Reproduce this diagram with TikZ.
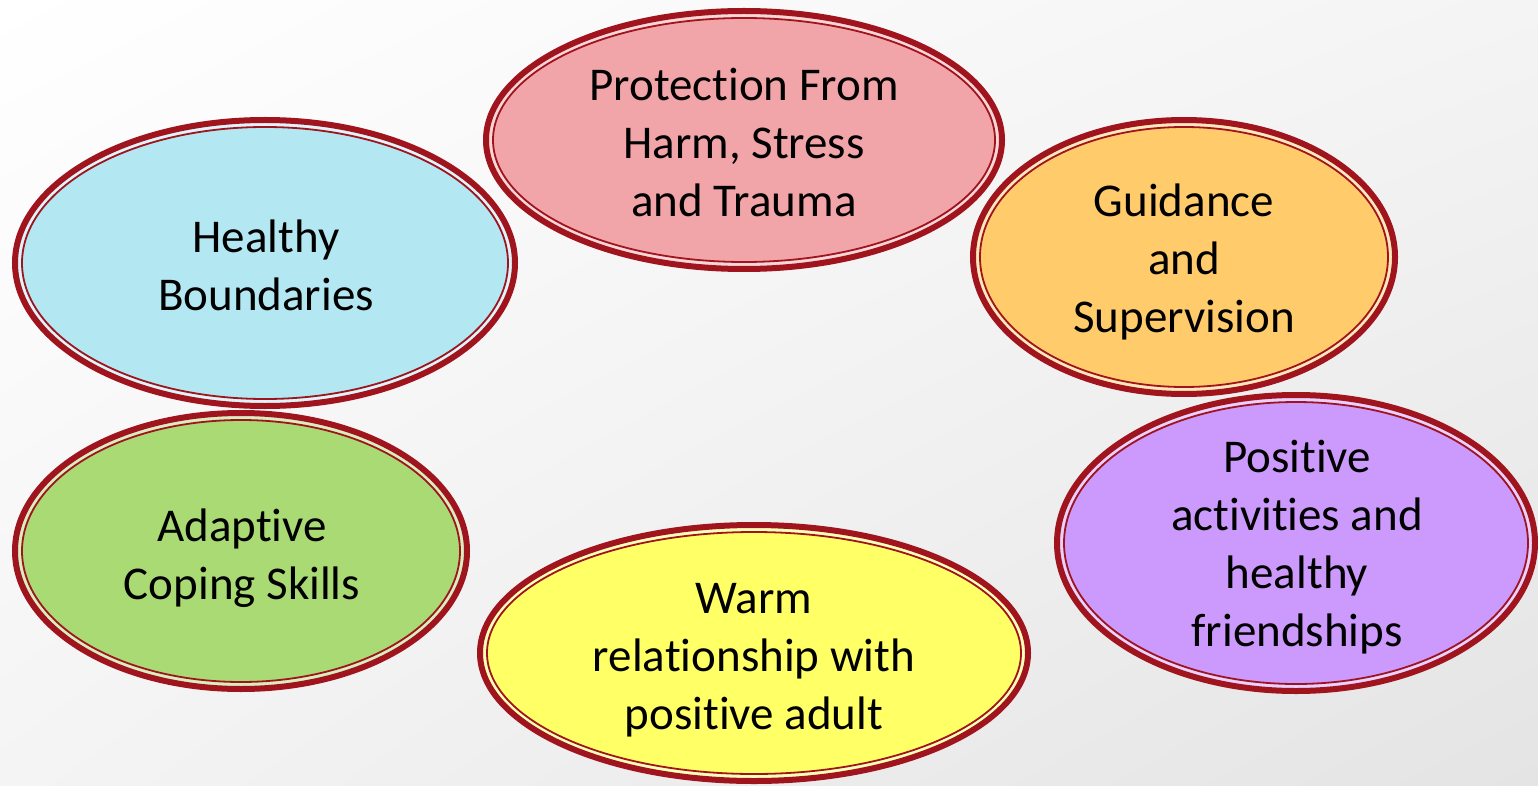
\documentclass[tikz,border=0pt]{standalone}
\usepackage{fontspec}
\setmainfont{Carlito}[Ligatures=NoCommon]
\usetikzlibrary{shapes.geometric,shadings}
\definecolor{bord}{HTML}{A0141E}
\definecolor{cpink}{HTML}{F2A5A8}
\definecolor{ccyan}{HTML}{B3E8F3}
\definecolor{corange}{HTML}{FFCB6B}
\definecolor{cpurple}{HTML}{CC99FC}
\definecolor{cgreen}{HTML}{A9DA74}
\definecolor{cyellow}{HTML}{FFFF66}
\definecolor{bgA}{HTML}{FFFFFF}
\definecolor{bgB}{HTML}{E4E4E4}
\definecolor{bgC}{HTML}{F4F4F4}
\tikzset{
  outerell/.style={ellipse, draw=bord, line width=6pt, inner sep=0pt},
  innerell/.style={ellipse, draw=bord, line width=1.8pt, inner sep=0pt},
  lbl/.style={align=center, inner sep=0pt, font=\fontsize{47}{58}\selectfont, text=black},
}
\begin{document}
\begin{tikzpicture}[x=1pt,y=-1pt]
\shade[upper left=bgA, upper right=bgC, lower left=bgC, lower right=bgB] (0,0) rectangle (1538,786);
\useasboundingbox (0,0) rectangle (1538,786);
% Protection
\node[outerell, fill=cpink!45, minimum width=516pt, minimum height=258pt] (po) at (744,140) {};
\node[innerell, fill=cpink, minimum width=502pt, minimum height=244pt] (p) at (744,140) {};
\node[lbl] (pt) at (744,143) {Protection From\\Harm, Stress\\and Trauma};
% Healthy
\node[outerell, fill=ccyan!45, minimum width=500pt, minimum height=286pt] (ho) at (265,263) {};
\node[innerell, fill=ccyan, minimum width=486pt, minimum height=272pt] (h) at (265,263) {};
\node[lbl] (ht) at (266,265) {Healthy\\Boundaries};
% Guidance
\node[outerell, fill=corange!45, minimum width=422pt, minimum height=274pt] (go) at (1184,257) {};
\node[innerell, fill=corange, minimum width=408pt, minimum height=260pt] (g) at (1184,257) {};
\node[lbl] (gt) at (1184,262) {Guidance\\and\\Supervision};
% Positive
\node[outerell, fill=cpurple!45, minimum width=478pt, minimum height=296pt] (pao) at (1296,543) {};
\node[innerell, fill=cpurple, minimum width=464pt, minimum height=282pt] (pa) at (1296,543) {};
\node[lbl] (pat) at (1297,547) {Positive\\activities and\\healthy\\friendships};
% Adaptive
\node[outerell, fill=cgreen!45, minimum width=452pt, minimum height=276pt] (ao) at (241,551) {};
\node[innerell, fill=cgreen, minimum width=438pt, minimum height=262pt] (a) at (241,551) {};
\node[lbl] (at) at (242,558) {Adaptive\\Coping Skills};
% Warm
\node[outerell, fill=cyellow!45, minimum width=548pt, minimum height=256pt] (wo) at (754,653) {};
\node[innerell, fill=cyellow, minimum width=534pt, minimum height=242pt] (w) at (754,653) {};
\node[lbl] (wt) at (754,660) {Warm\\relationship with\\positive adult};
\end{tikzpicture}
\end{document}
